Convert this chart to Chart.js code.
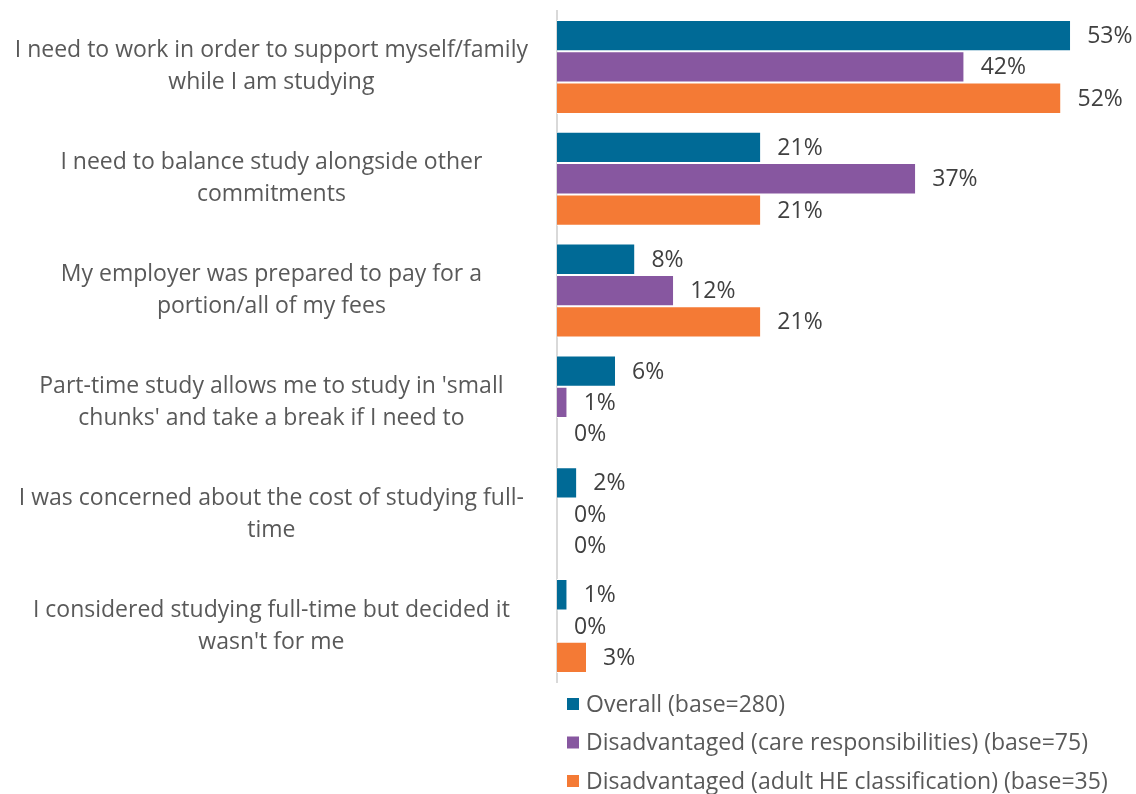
<!DOCTYPE html>
<html>
<head>
<meta charset="utf-8">
<script src="https://cdn.jsdelivr.net/npm/chart.js@4/dist/chart.umd.min.js"></script>
<style>
  html, body { margin: 0; padding: 0; background: #fff; }
  #wrap { position: relative; width: 1136px; height: 794px; }
</style>
</head>
<body>
<div id="wrap"><canvas id="Chart01"></canvas></div>
<script>
/* Data */
const categories = [
  ['I need to work in order to support myself/family', 'while I am studying'],
  ['I need to balance study alongside other', 'commitments'],
  ['My employer was prepared to pay for a', 'portion/all of my fees'],
  ["Part-time study allows me to study in 'small", "chunks' and take a break if I need to"],
  ['I was concerned about the cost of studying full-', 'time'],
  ['I considered studying full-time but decided it', "wasn't for me"]
];
const seriesNames = [
  'Overall (base=280)',
  'Disadvantaged (care responsibilities) (base=75)',
  'Disadvantaged (adult HE classification) (base=35)'
];
const overall = [53, 21, 8, 6, 2, 1];
const careResp = [42, 37, 12, 1, 0, 0];
const adultHE = [52, 21, 21, 0, 0, 3];
const colors = ['#006A96', '#8757A0', '#F47A35'];

const FONT = '"Open Sans", "Noto Sans", sans-serif';
const FSIZE = 23;

/* value labels at bar ends */
const valueLabels = {
  id: 'valueLabels',
  afterDatasetsDraw(chart) {
    const ctx = chart.ctx;
    ctx.save();
    ctx.font = FSIZE + 'px ' + FONT;
    ctx.fillStyle = '#404040';
    ctx.textAlign = 'left';
    ctx.textBaseline = 'middle';
    chart.data.datasets.forEach((ds, i) => {
      const meta = chart.getDatasetMeta(i);
      meta.data.forEach((el, j) => {
        ctx.fillText(ds.data[j] + '%', el.x + 17, el.y + 1);
      });
    });
    ctx.restore();
  }
};

/* stacked legend below plot, starting at the axis line */
const stackedLegend = {
  id: 'stackedLegend',
  afterDraw(chart) {
    const ctx = chart.ctx;
    const x0 = chart.chartArea.left + 10;
    let y = 704;
    ctx.save();
    ctx.font = FSIZE + 'px ' + FONT;
    ctx.textBaseline = 'middle';
    ctx.textAlign = 'left';
    chart.data.datasets.forEach((ds) => {
      ctx.fillStyle = ds.backgroundColor;
      ctx.fillRect(x0, y - 6, 12, 12);
      ctx.fillStyle = '#595959';
      ctx.fillText(ds.label, x0 + 19, y + 1);
      y += 38.5;
    });
    ctx.restore();
  }
};

const config01 = {
  type: 'bar',
  data: {
    labels: categories,
    datasets: [
      { label: seriesNames[0], data: overall, backgroundColor: colors[0] },
      { label: seriesNames[1], data: careResp, backgroundColor: colors[1] },
      { label: seriesNames[2], data: adultHE, backgroundColor: colors[2] }
    ]
  },
  options: {
    indexAxis: 'y',
    responsive: true,
    maintainAspectRatio: false,
    animation: false,
    layout: { padding: { top: 11, bottom: 112, right: 0, left: 0 } },
    datasets: {
      bar: {
        barPercentage: 1,
        categoryPercentage: 0.84,
        borderColor: '#ffffff',
        borderWidth: { top: 1, bottom: 1, left: 0, right: 0 },
        borderSkipped: 'start'
      }
    },
    plugins: {
      legend: { display: false },
      tooltip: { enabled: false }
    },
    scales: {
      x: {
        display: false,
        min: 0,
        max: 59.8,
        grid: { display: false }
      },
      y: {
        afterFit(scale) {
          scale.width = 557;
          scale.paddingTop = 0;
          scale.paddingBottom = 0;
        },
        grid: { display: false, drawTicks: false },
        border: { display: true, color: '#D9D9D9', width: 2 },
        ticks: {
          crossAlign: 'center',
          padding: 29,
          color: '#595959',
          font: { family: FONT, size: FSIZE, lineHeight: 1.39 }
        }
      }
    }
  },
  plugins: [valueLabels, stackedLegend]
};

const ctxch01 = document.getElementById('Chart01');
new Chart(ctxch01, config01);
</script>
</body>
</html>
